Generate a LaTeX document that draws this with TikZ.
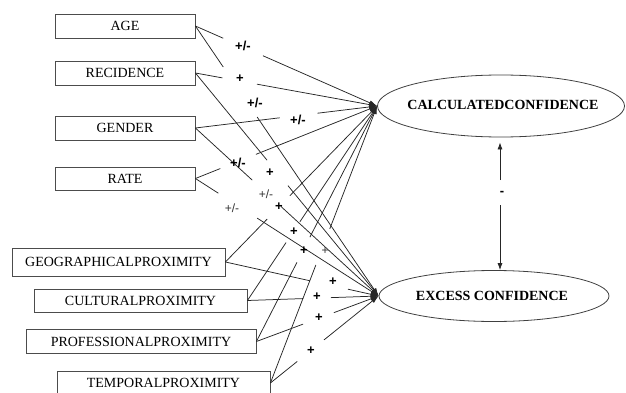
\documentclass[tikz,border=0pt]{standalone}
\usepackage{fontspec}
\setmainfont{Liberation Serif}
\newfontfamily\signfont{Liberation Sans}
\usetikzlibrary{calc,arrows.meta,shapes.geometric}

% a connector from #1 to #2 that is interrupted between fractions #3 and #4
\newcommand{\splitlink}[4]{%
  \draw[link] (#1) -- ($(#1)!#3!(#2)$);
  \draw[tip] ($(#1)!#4!(#2)$) -- (#2);
}

\begin{document}
\begin{tikzpicture}[x=1pt,y=-1pt,
  box/.style={draw=black!70, line width=0.8pt, minimum height=24pt, inner sep=0pt,
              font=\fontsize{14}{16}\selectfont},
  target/.style={draw=black!75, ellipse, line width=0.8pt, inner sep=0pt},
  targettext/.style={font=\fontsize{14}{16}\selectfont\bfseries, inner sep=0pt},
  link/.style={draw=black!85, line width=0.75pt},
  tip/.style={link, -{Latex[length=8pt,width=5pt]}},
  sgn/.style={font=\signfont\bfseries\fontsize{13}{14}\selectfont, inner sep=0pt},
  sgnl/.style={font=\signfont\fontsize{12}{14}\selectfont, inner sep=0pt, text=black!80}]

\useasboundingbox (0,0) rectangle (626,393);
\clip (0,0) rectangle (626,393);

% predictor boxes
\node[box, minimum width=140pt] (age)  at (125,26)    {AGE};
\node[box, minimum width=140pt] (rec)  at (125,73)    {RECIDENCE};
\node[box, minimum width=140pt] (gen)  at (125,128)   {GENDER};
\node[box, minimum width=140pt, minimum height=23pt] (rate) at (125,178.5) {RATE};
\node[box, minimum width=213pt, minimum height=28pt] (geo)  at (118.5,262) {GEOGRAPHICALPROXIMITY};
\node[box, minimum width=213pt, minimum height=23pt] (cul)  at (140.5,300.5) {CULTURALPROXIMITY};
\node[box, minimum width=230pt] (pro)  at (141,341.5)  {PROFESSIONALPROXIMITY};
\node[box, minimum width=213pt] (tem)  at (163.5,383)  {TEMPORALPROXIMITY};

% outcome ellipses
\node[target, minimum width=247pt, minimum height=62pt] (calc) at (501,106) {};
\node[targettext] (calctext) at (503,105) {CALCULATEDCONFIDENCE};
\node[target, minimum width=230pt, minimum height=51pt] (exc) at (494,296) {};
\node[targettext] (exctext) at (492,296) {EXCESS CONFIDENCE};

% paths to the two outcomes
\splitlink{age.east}{calc.west}{0.153}{0.372}
\splitlink{age.east}{exc.west}{0.152}{0.337}
\splitlink{rec.east}{calc.west}{0.148}{0.339}
\splitlink{rec.east}{exc.west}{0.391}{0.505}
\splitlink{gen.east}{calc.west}{0.464}{0.672}
\splitlink{gen.east}{exc.west}{0.31}{0.467}
\splitlink{rate.east}{calc.west}{0.137}{0.333}
\splitlink{rate.east}{exc.west}{0.125}{0.337}
\splitlink{geo.east}{calc.west}{0.275}{0.425}
\splitlink{geo.east}{exc.west}{0.552}{0.80}
\splitlink{cul.east}{calc.west}{0.298}{0.405}
\splitlink{cul.east}{exc.west}{0.424}{0.636}
\splitlink{pro.east}{calc.west}{0.336}{0.443}
\splitlink{pro.east}{exc.west}{0.382}{0.634}
\splitlink{tem.east}{calc.west}{0.426}{0.556}
\splitlink{tem.east}{exc.west}{0.248}{0.495}

% signs of the paths
\node[sgn] (s1)  at (243,46)  {+/-};
\node[sgn] (s2)  at (240,79)  {+};
\node[sgn] (s3)  at (255,103) {+/-};
\node[sgn] (s4)  at (298,120) {+/-};
\node[sgn] (s5)  at (238,163) {+/-};
\node[sgn] (s6)  at (270,173) {+};
\node[sgnl] (s7) at (266,194) {+/-};
\node[sgnl] (s8) at (232,208) {+/-};
\node[sgn] (s9)  at (279,207) {+};
\node[sgn] (s10) at (294,232) {+};
\node[sgn] (s11) at (304,251) {+};
\node[sgnl] (s12) at (325,251) {+};
\node[sgn] (s13) at (333,282) {+};
\node[sgn] (s14) at (317,297) {+};
\node[sgn] (s15) at (319,318) {+};
\node[sgn] (s16) at (311,351) {+};

% link between the two outcomes
\node[sgn] (minus) at (502,193) {-};
\coordinate (up)   at ($(minus)+(-2,-13)$);
\coordinate (down) at ($(minus)+(-2,12)$);
\draw[link, -{Latex[length=7pt,width=5pt]}] (up) -- (up |- {$(calc.south)+(0,5)$});
\draw[link, -{Latex[length=7pt,width=5pt]}] (down) -- (down |- exc.north);
\end{tikzpicture}
\end{document}
